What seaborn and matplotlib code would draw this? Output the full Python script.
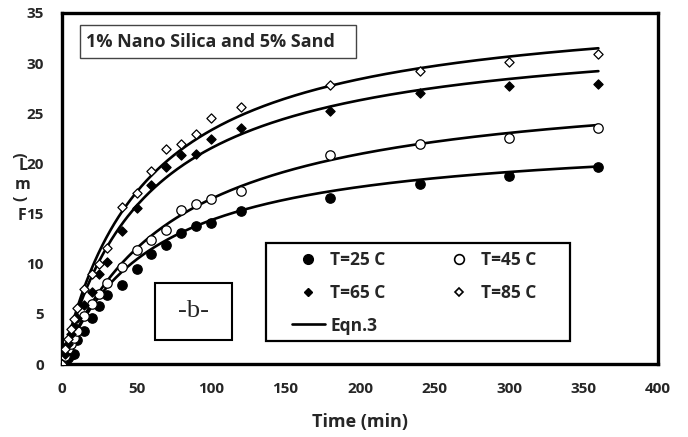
import numpy as np
import pandas as pd
import matplotlib
matplotlib.use("Agg")
import matplotlib.pyplot as plt
from matplotlib.lines import Line2D
from matplotlib.patches import Rectangle
import seaborn as sns

# Filtration time (min)
time_min = [0, 2, 4, 6, 8, 10, 15, 20, 25, 30, 40, 50, 60, 70, 80, 90, 100, 120, 180, 240, 300, 360]

# Measured filtrate volume (mL) at each temperature
vol_25 = [0, 0.3, 0.6, 0.9, 1.0, 2.4, 3.3, 4.55, 5.8, 6.9, 7.85, 9.45, 11.0, 11.9, 13.1, 13.8, 14.1, 15.3, 16.55, 17.9, 18.75, 19.6]
vol_45 = [0, 0.8, 1.5, 2.0, 2.6, 3.3, 4.8, 6.0, 7.0, 8.1, 9.7, 11.4, 12.4, 13.4, 15.35, 15.95, 16.45, 17.3, 20.8, 21.9, 22.5, 23.5]
vol_65 = [0, 1.0, 2.0, 3.0, 3.8, 4.6, 5.9, 7.2, 9.0, 10.2, 13.3, 15.6, 17.8, 19.6, 20.8, 20.9, 22.4, 23.5, 25.2, 27.05, 27.7, 27.95]
vol_85 = [0, 1.5, 2.5, 3.5, 4.5, 5.6, 7.5, 9.0, 10.0, 11.6, 15.7, 17.1, 19.25, 21.4, 21.9, 22.9, 24.5, 25.6, 27.8, 29.25, 30.1, 30.9]

series_labels = ["T=25 C", "T=45 C", "T=65 C", "T=85 C"]
series_values = [vol_25, vol_45, vol_65, vol_85]

# Eqn.3 parameters, V = a * t / (K + t)
eqn_a = [23.0, 28.8, 33.86, 36.4]
eqn_k = [60.4, 75.0, 57.4, 56.2]

marker_shape = ["o", "o", "D", "D"]
marker_face = ["black", "white", "black", "white"]
marker_size = [46, 46, 22, 22]

x_ticks = [0, 50, 100, 150, 200, 250, 300, 350, 400]
y_ticks = [0, 5, 10, 15, 20, 25, 30, 35]

sns.set_style("white")
plt.rcParams["font.family"] = ["Open Sans", "DejaVu Sans"]

W, H = 688, 437
fig = plt.figure(figsize=(W / 100, H / 100), dpi=100)
ax = fig.add_axes([62 / W, 73 / H, 596 / W, 351 / H])

obs = pd.DataFrame({
    "time": np.tile(time_min, len(series_labels)),
    "volume": np.concatenate(series_values),
    "series": np.repeat(series_labels, len(time_min)),
})

t_fine = np.linspace(0, 360, 400)
for lab, a, k in zip(series_labels, eqn_a, eqn_k):
    sns.lineplot(x=t_fine, y=a * t_fine / (k + t_fine), ax=ax, color="black",
                 linewidth=1.9, zorder=2)

for lab, mk, fc, sz in zip(series_labels, marker_shape, marker_face, marker_size):
    sub = obs[obs["series"] == lab]
    sns.scatterplot(data=sub, x="time", y="volume", ax=ax, marker=mk, s=sz,
                    facecolor=fc, edgecolor="black", linewidth=0.9, zorder=3,
                    legend=False)

ax.set_xlim(0, 400)
ax.set_ylim(0, 35)
ax.set_xticks(x_ticks)
ax.set_yticks(y_ticks)
ax.set_xticklabels([str(v) for v in x_ticks], fontweight="bold", fontsize=11)
ax.set_yticklabels([str(v) for v in y_ticks], fontweight="bold", fontsize=11)
ax.tick_params(direction="in", length=5, width=1.5, color="black", pad=13)
for sp in ax.spines.values():
    sp.set_visible(True)
    sp.set_color("black")
    sp.set_linewidth(2.4)
ax.set_xlabel("Time (min)", fontweight="bold", fontsize=13, labelpad=12)
ax.set_ylabel("")

# Stacked y-axis caption
ylab = [(")", 21, 155, 90), ("L", 23, 166, 0), ("m", 23, 185, 0), ("(", 21, 198, 90), ("F", 22, 216, 0)]
for ch, px, py, rot in ylab:
    fig.text(px / W, 1 - py / H, ch, ha="center", va="center", rotation=rot,
             fontsize=11.5, fontweight="bold")

# Legend: box drawn separately, entries laid out by matplotlib
ax.add_patch(Rectangle((266 / W, 1 - 341 / H), 304 / W, 98 / H, transform=fig.transFigure,
                       facecolor="white", edgecolor="black", linewidth=1.6, zorder=4,
                       clip_on=False))
handles = [
    Line2D([], [], linestyle="none", marker="o", markersize=7, markerfacecolor="black", markeredgecolor="black"),
    Line2D([], [], linestyle="none", marker="D", markersize=4.5, markerfacecolor="black", markeredgecolor="black"),
    Line2D([], [], color="black", linewidth=1.9),
    Line2D([], [], linestyle="none", marker="o", markersize=7, markerfacecolor="white", markeredgecolor="black", markeredgewidth=1.2),
    Line2D([], [], linestyle="none", marker="D", markersize=4.5, markerfacecolor="white", markeredgecolor="black", markeredgewidth=1.2),
]
labels = ["T=25 C", "T=65 C", "Eqn.3", "T=45 C", "T=85 C"]
leg = ax.legend(handles, labels, ncol=2, loc="upper left",
                bbox_to_anchor=(292 / W, 1 - 251 / H), bbox_transform=fig.transFigure,
                frameon=False, prop={"weight": "bold", "size": 12.5}, handlelength=1.9,
                handletextpad=0.3, columnspacing=3.3, labelspacing=0.85,
                borderpad=0, borderaxespad=0)
leg.set_zorder(6)

# Caption boxes
ax.add_patch(Rectangle((80 / W, 1 - 58 / H), 276 / W, 33 / H, transform=fig.transFigure,
                       facecolor="white", edgecolor="#444444", linewidth=1.0, zorder=5,
                       clip_on=False))
fig.text(86 / W, 1 - 42 / H, "1% Nano Silica and 5% Sand", ha="left", va="center",
         fontsize=13, fontweight="bold", zorder=6)

ax.add_patch(Rectangle((155 / W, 1 - 340 / H), 77 / W, 57 / H, transform=fig.transFigure,
                       facecolor="white", edgecolor="black", linewidth=1.5, zorder=5,
                       clip_on=False))
fig.text(193.5 / W, 1 - 311 / H, "-b-", ha="center", va="center", fontsize=19,
         family="Liberation Serif", zorder=6)

fig.savefig("out.png", dpi=100)
